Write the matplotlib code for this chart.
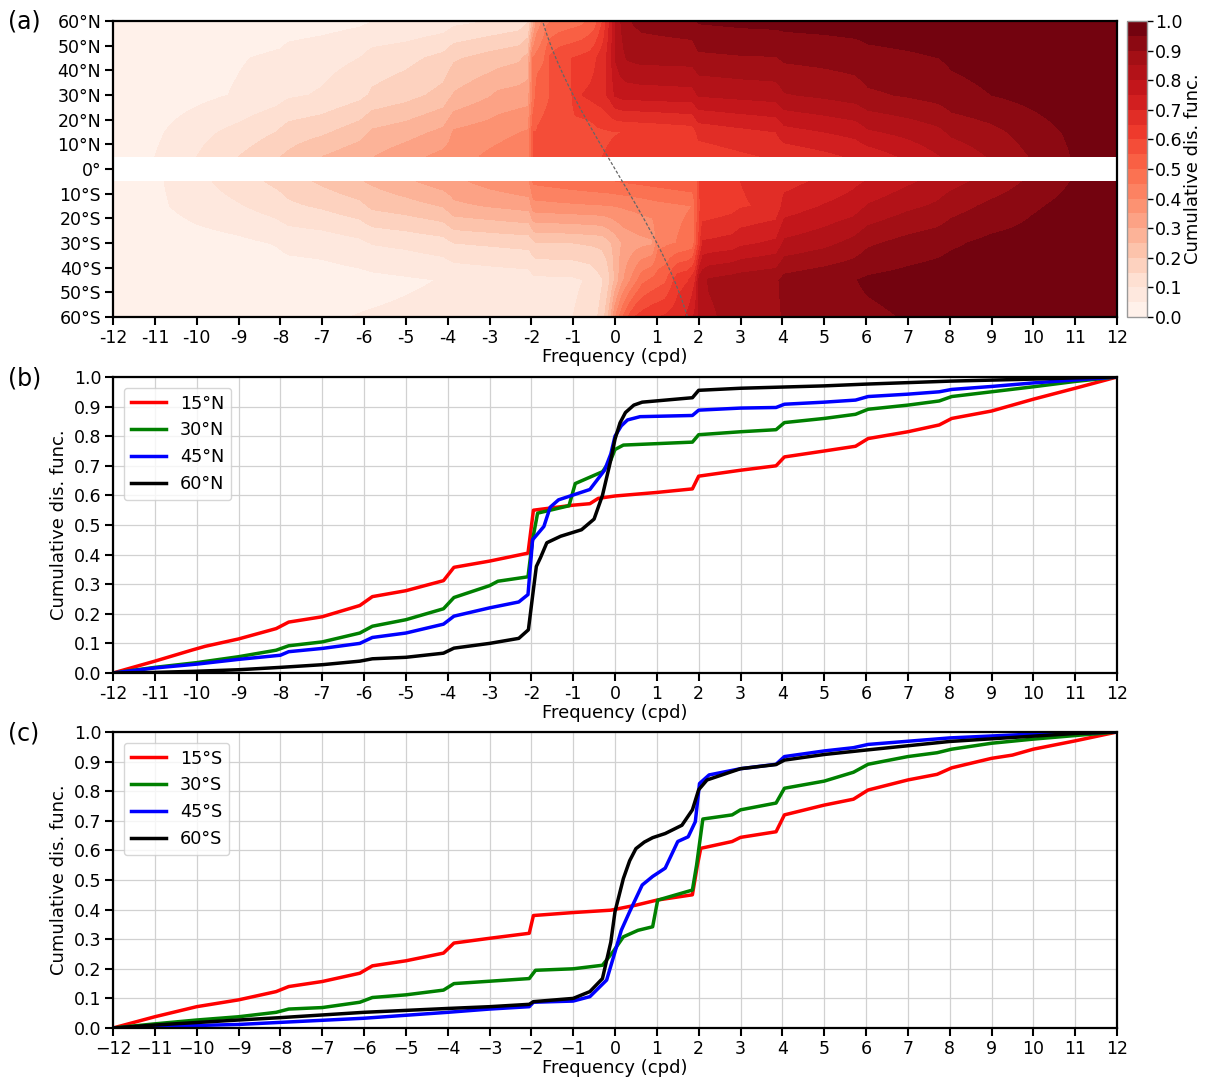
import numpy as np
import matplotlib
matplotlib.use("Agg")
import matplotlib.pyplot as plt

# ---------------- data ----------------
freq_ticks = list(range(-12, 13))
lat_ticks = list(range(-60, 61, 10))
cdf_ticks = [round(0.1 * i, 1) for i in range(11)]

# Northern hemisphere CDF curves (frequency knots, CDF values)
n15_f = [-12, -11, -10.1, -9.8, -9, -8.1, -7.8, -7, -6.1, -5.8, -5, -4.1, -3.85, -3, -2.08, -1.95,
         -1, -0.6, -0.4, 0, 1, 1.85, 2.0, 3, 3.85, 4.05, 5, 5.75, 6.05, 7, 7.75, 8.05, 9, 10, 11, 12]
n15_c = [0, 0.04, 0.078, 0.09, 0.115, 0.15, 0.172, 0.19, 0.228, 0.258, 0.278, 0.312, 0.357, 0.378, 0.405, 0.55,
         0.567, 0.572, 0.59, 0.598, 0.61, 0.622, 0.665, 0.685, 0.70, 0.73, 0.75, 0.766, 0.792, 0.815, 0.838, 0.86, 0.885, 0.925, 0.962, 1.0]

n30_f = [-12, -11, -10, -9, -8.1, -7.8, -7, -6.1, -5.8, -5, -4.1, -3.85, -3, -2.8, -2.08, -1.97, -1.85,
         -1.1, -0.95, -0.3, -0.1, 0, 0.2, 1.85, 2.0, 3, 3.85, 4.05, 5, 5.75, 6.05, 7, 7.75, 8.05, 9, 10, 11, 12]
n30_c = [0, 0.019, 0.035, 0.055, 0.077, 0.092, 0.105, 0.135, 0.158, 0.18, 0.217, 0.255, 0.295, 0.31, 0.325, 0.45, 0.54,
         0.565, 0.64, 0.68, 0.72, 0.755, 0.77, 0.78, 0.805, 0.815, 0.822, 0.846, 0.86, 0.874, 0.891, 0.905, 0.919, 0.934, 0.95, 0.967, 0.985, 1.0]

n45_f = [-12, -11, -10, -9, -8, -7.8, -7, -6.1, -5.8, -5, -4.1, -3.85, -3, -2.3, -2.08, -1.97, -1.7, -1.55, -1.35,
         -0.6, -0.25, -0.1, 0, 0.15, 0.3, 0.6, 1.85, 2.0, 3, 3.85, 4.05, 5, 5.75, 6.05, 7, 7.75, 8.05, 9, 10, 11, 12]
n45_c = [0, 0.017, 0.03, 0.046, 0.06, 0.072, 0.083, 0.10, 0.12, 0.135, 0.165, 0.192, 0.22, 0.24, 0.265, 0.45, 0.495, 0.56, 0.585,
         0.62, 0.685, 0.74, 0.80, 0.835, 0.855, 0.866, 0.87, 0.888, 0.895, 0.897, 0.908, 0.915, 0.922, 0.934, 0.942, 0.95, 0.958, 0.968, 0.98, 0.99, 1.0]

n60_f = [-12, -11, -10, -9, -8, -7, -6.1, -5.8, -5, -4.1, -3.85, -3, -2.3, -2.07, -1.97, -1.88, -1.78, -1.63, -1.3,
         -0.8, -0.5, -0.3, -0.1, 0.0, 0.12, 0.25, 0.45, 0.65, 1.85, 2.0, 3, 5, 6, 8, 10, 11, 12]
n60_c = [0, 0.002, 0.006, 0.011, 0.019, 0.028, 0.04, 0.048, 0.053, 0.067, 0.084, 0.10, 0.117, 0.146, 0.26, 0.36, 0.39, 0.44, 0.462,
         0.484, 0.52, 0.6, 0.72, 0.79, 0.845, 0.88, 0.905, 0.915, 0.93, 0.955, 0.962, 0.97, 0.976, 0.986, 0.993, 0.997, 1.0]

# Southern hemisphere CDF curves
s15_f = [-12, -11, -10, -9, -8.1, -7.8, -7, -6.1, -5.8, -5, -4.1, -3.85, -3, -2.05, -1.95, -1, -0.1, 0.5, 1,
         1.85, 1.97, 2.05, 2.8, 3, 3.85, 4.05, 5, 5.7, 6.05, 7, 7.7, 8.05, 9, 9.5, 10, 11, 12]
s15_c = [0, 0.038, 0.072, 0.095, 0.123, 0.14, 0.157, 0.185, 0.21, 0.227, 0.253, 0.287, 0.303, 0.32, 0.38, 0.39, 0.398, 0.415, 0.432,
         0.45, 0.55, 0.607, 0.63, 0.644, 0.663, 0.72, 0.753, 0.773, 0.804, 0.838, 0.857, 0.879, 0.911, 0.922, 0.942, 0.97, 1.0]

s30_f = [-12, -11, -10, -9, -8.1, -7.8, -7, -6.1, -5.8, -5, -4.1, -3.85, -3, -2.05, -1.9, -1, -0.3, -0.05, 0.2, 0.55, 0.9,
         1.02, 1.85, 1.95, 2.1, 2.8, 3, 3.85, 4.05, 5, 5.7, 6.05, 7, 7.7, 8.05, 9, 10, 11, 12]
s30_c = [0, 0.014, 0.027, 0.038, 0.053, 0.064, 0.069, 0.087, 0.103, 0.112, 0.128, 0.15, 0.158, 0.167, 0.195, 0.2, 0.212, 0.257, 0.308, 0.33, 0.342,
         0.432, 0.466, 0.55, 0.706, 0.72, 0.737, 0.76, 0.81, 0.834, 0.864, 0.891, 0.917, 0.93, 0.942, 0.962, 0.976, 0.988, 1.0]

s45_f = [-12, -11, -9, -8, -6, -4, -3, -2.05, -1.95, -1, -0.6, -0.2, 0, 0.15, 0.35, 0.65, 0.9, 1.2, 1.35, 1.5, 1.75, 1.92, 2.02, 2.25,
         3, 3.85, 4.05, 5, 5.7, 6.05, 8, 10, 12]
s45_c = [0, 0.005, 0.012, 0.019, 0.033, 0.053, 0.064, 0.072, 0.087, 0.091, 0.106, 0.162, 0.257, 0.33, 0.393, 0.483, 0.512, 0.54, 0.585, 0.63, 0.646, 0.697, 0.826, 0.855,
         0.876, 0.891, 0.917, 0.936, 0.947, 0.958, 0.98, 0.993, 1.0]

s60_f = [-12, -11, -9, -8, -6, -4, -3, -2.05, -1.95, -1, -0.6, -0.3, -0.1, 0, 0.2, 0.35, 0.5, 0.7, 0.9, 1.2, 1.6, 1.85, 2.0, 2.2,
         3, 3.85, 4.05, 5, 6, 8, 10, 11, 12]
s60_c = [0, 0.01, 0.027, 0.035, 0.053, 0.066, 0.072, 0.08, 0.089, 0.1, 0.123, 0.167, 0.29, 0.393, 0.505, 0.565, 0.606, 0.628, 0.643, 0.657, 0.685, 0.737, 0.805, 0.838,
         0.876, 0.89, 0.905, 0.924, 0.939, 0.968, 0.986, 0.995, 1.0]

# Near-equatorial rows (a)
n05_f = [-12, -11, -10, -9, -8, -7, -6, -5, -4, -3, -2.05, -1.95, -1, -0.3, 0, 1, 2, 3, 4, 5, 6, 7, 8, 9, 10, 11, 12]
n05_c = [0, 0.05, 0.10, 0.15, 0.20, 0.25, 0.29, 0.33, 0.37, 0.41, 0.44, 0.56, 0.58, 0.60, 0.61, 0.615, 0.62, 0.64, 0.66, 0.685, 0.715, 0.76, 0.81, 0.855, 0.905, 0.955, 1.0]
s05_f = [-12, -11, -10, -9, -8, -7, -6, -5, -4, -3, -2.05, -1.95, -1, 0, 1, 1.95, 2.05, 3, 4, 5, 6, 7, 8, 9, 10, 11, 12]
s05_c = [0, 0.04, 0.085, 0.125, 0.165, 0.21, 0.25, 0.29, 0.33, 0.37, 0.40, 0.46, 0.48, 0.50, 0.52, 0.54, 0.63, 0.65, 0.68, 0.71, 0.75, 0.79, 0.83, 0.87, 0.91, 0.955, 1.0]

north_lats = [5, 15, 30, 45, 60]
south_lats = [-60, -45, -30, -15, -5]
north_rows = [(n05_f, n05_c), (n15_f, n15_c), (n30_f, n30_c), (n45_f, n45_c), (n60_f, n60_c)]
south_rows = [(s60_f, s60_c), (s45_f, s45_c), (s30_f, s30_c), (s15_f, s15_c), (s05_f, s05_c)]

north_labels = ["15°N", "30°N", "45°N", "60°N"]
south_labels = ["15°S", "30°S", "45°S", "60°S"]
line_colors = ["red", "green", "blue", "black"]

# ---------------- figure ----------------
plt.rcParams["font.family"] = ["DejaVu Sans"]
W, H = 1205, 1080
fig = plt.figure(figsize=(W / 100, H / 100), dpi=100)

def box(l, t, r, b):
    return [l / W, 1 - b / H, (r - l) / W, (b - t) / H]

TICK_FS = 12.5
LAB_FS = 13

def style_axes(ax):
    for s in ax.spines.values():
        s.set_linewidth(1.6)
        s.set_color("black")
    ax.tick_params(axis="both", which="major", length=6, width=1.5,
                   labelsize=TICK_FS, direction="out", pad=2.5)

# ---- panel (a) ----
axa = fig.add_axes(box(113, 21, 1117, 317))
fgrid = np.linspace(-12, 12, 2401)
levels = np.linspace(0, 1, 21)
Zn = np.array([np.interp(fgrid, f, c) for f, c in north_rows])
Zs = np.array([np.interp(fgrid, f, c) for f, c in south_rows])
cs = axa.contourf(fgrid, north_lats, Zn, levels=levels, cmap="Reds")
axa.contourf(fgrid, south_lats, Zs, levels=levels, cmap="Reds")

lat_line = np.linspace(-60, 60, 241)
axa.plot(-2 * np.sin(np.deg2rad(lat_line)), lat_line, color="0.4",
         lw=0.9, ls=(0, (2.5, 1.5)))

axa.set_xlim(-12, 12)
axa.set_ylim(-60, 60)
axa.set_xticks(freq_ticks)
axa.set_xticklabels([str(v) for v in freq_ticks])
axa.set_yticks(lat_ticks)
axa.set_yticklabels([f"{abs(v)}°" + ("N" if v > 0 else "S" if v < 0 else "") for v in lat_ticks])
axa.set_xlabel("Frequency (cpd)", fontsize=LAB_FS, labelpad=1)
style_axes(axa)

cax = fig.add_axes(box(1127, 21, 1147, 317))
cb = fig.colorbar(cs, cax=cax, ticks=cdf_ticks)
cb.outline.set_edgecolor("0.6")
cb.outline.set_linewidth(1.0)
cb.ax.tick_params(labelsize=TICK_FS, length=4, width=1, pad=2)
cb.ax.set_yticklabels([f"{v:.1f}" for v in cdf_ticks])
cb.set_label("Cumulative dis. func.", fontsize=LAB_FS, labelpad=1)

# ---- panels (b) and (c) ----
def line_panel(ax, curves, labels, xlabels):
    for (f, c), lab, col in zip(curves, labels, line_colors):
        ax.plot(f, c, color=col, lw=2.5, label=lab, solid_joinstyle="round")
    ax.set_xlim(-12, 12)
    ax.set_ylim(0, 1)
    ax.set_xticks(freq_ticks)
    ax.set_xticklabels(xlabels)
    ax.set_yticks(cdf_ticks)
    ax.set_yticklabels([f"{v:.1f}" for v in cdf_ticks])
    ax.grid(True, color="0.82", lw=0.9)
    ax.set_axisbelow(True)
    ax.set_xlabel("Frequency (cpd)", fontsize=LAB_FS, labelpad=1)
    ax.set_ylabel("Cumulative dis. func.", fontsize=LAB_FS)
    ax.legend(loc="upper left", fontsize=12.7, borderaxespad=0.6)
    style_axes(ax)

axb = fig.add_axes(box(113, 377, 1117, 673))
line_panel(axb, [(n15_f, n15_c), (n30_f, n30_c), (n45_f, n45_c), (n60_f, n60_c)],
           north_labels, [str(v) for v in freq_ticks])

axc = fig.add_axes(box(113, 732, 1117, 1028))
line_panel(axc, [(s15_f, s15_c), (s30_f, s30_c), (s45_f, s45_c), (s60_f, s60_c)],
           south_labels, [str(v).replace("-", "\u2212") for v in freq_ticks])

for lab, y in [("(a)", 22), ("(b)", 379), ("(c)", 733)]:
    fig.text(8 / W, 1 - y / H, lab, fontsize=17, ha="left", va="center")

fig.savefig("out.png", dpi=100)
